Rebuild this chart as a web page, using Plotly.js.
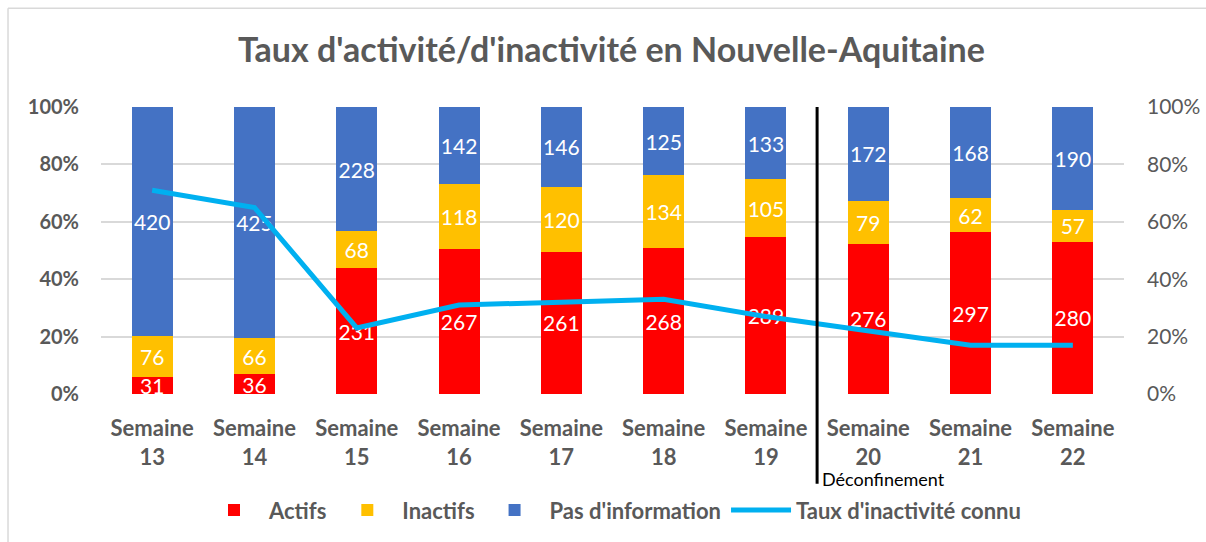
<!DOCTYPE html>
<html>
<head>
<meta charset="utf-8">
<script src="https://cdn.plot.ly/plotly-3.0.1.min.js"></script>
<style>
  html, body { margin: 0; padding: 0; background: #fff; }
  #plot { width: 1206px; height: 542px; }
</style>
</head>
<body>
<div id="plot"></div>
<script>
var semaines = ['Semaine<br>13', 'Semaine<br>14', 'Semaine<br>15', 'Semaine<br>16', 'Semaine<br>17',
                'Semaine<br>18', 'Semaine<br>19', 'Semaine<br>20', 'Semaine<br>21', 'Semaine<br>22'];
var actifs = [31, 36, 231, 267, 261, 268, 289, 276, 297, 280];
var inactifs = [76, 66, 68, 118, 120, 134, 105, 79, 62, 57];
var pasInfo = [420, 425, 228, 142, 146, 125, 133, 172, 168, 190];
var tauxInactivite = [0.71, 0.65, 0.23, 0.31, 0.32, 0.33, 0.27, 0.22, 0.17, 0.17];

var police = 'Lato, "Open Sans", sans-serif';
var gris = '#595959';

function barres(nom, valeurs, couleur) {
  return {
    x: semaines,
    y: valeurs,
    name: nom,
    type: 'bar',
    marker: {color: couleur},
    text: valeurs.map(String),
    textposition: 'inside',
    insidetextanchor: 'middle',
    textangle: 0,
    textfont: {color: '#ffffff', size: 21, family: police},
    hoverinfo: 'skip'
  };
}

var trace1 = barres('Actifs', actifs, '#FF0000');
var trace2 = barres('Inactifs', inactifs, '#FFC000');
var trace3 = barres("Pas d'information", pasInfo, '#4472C4');

var trace4 = {
  x: semaines,
  y: tauxInactivite,
  name: "Taux d'inactivité connu",
  type: 'scatter',
  mode: 'lines',
  yaxis: 'y2',
  line: {color: '#00B0F0', width: 5}
};

var data = [trace1, trace2, trace3, trace4];

var layout = {
  width: 1206,
  height: 542,
  margin: {l: 101, r: 82, t: 107, b: 147},
  paper_bgcolor: '#ffffff',
  plot_bgcolor: '#ffffff',
  barmode: 'stack',
  barnorm: 'fraction',
  bargap: 0.6,
  uniformtext: {mode: 'show', minsize: 21},
  title: {
    text: "<b>Taux d'activité/d'inactivité en Nouvelle-Aquitaine</b>",
    font: {family: police, size: 34, color: gris},
    x: 0.507, xanchor: 'center',
    y: 0.908, yanchor: 'middle'
  },
  xaxis: {
    type: 'category',
    tickfont: {family: police, size: 22, color: gris, weight: 'bold'},
    showgrid: false,
    zeroline: false,
    ticks: '',
    ticklabelstandoff: 19
  },
  yaxis: {
    range: [0, 1],
    tickvals: [0, 0.2, 0.4, 0.6, 0.8, 1],
    tickformat: '.0%',
    tickfont: {family: police, size: 20, color: gris, weight: 'bold'},
    gridcolor: '#D9D9D9',
    gridwidth: 1.5,
    zeroline: false,
    ticklabelstandoff: 21
  },
  yaxis2: {
    overlaying: 'y',
    side: 'right',
    range: [0, 1],
    tickvals: [0, 0.2, 0.4, 0.6, 0.8, 1],
    tickformat: '.0%',
    tickfont: {family: police, size: 21, color: gris},
    showgrid: false,
    zeroline: false,
    ticklabelstandoff: 22
  },
  legend: {
    orientation: 'h',
    x: 0.5, xanchor: 'center',
    y: -0.40, yanchor: 'middle',
    font: {family: police, size: 22, color: gris, weight: 'bold'},
    traceorder: 'normal',
    itemwidth: 60
  },
  shapes: [
    {type: 'line', xref: 'x', yref: 'paper', x0: 6.5, x1: 6.5, y0: 1, y1: -0.3125,
     line: {color: '#000000', width: 3}},
    {type: 'line', xref: 'paper', yref: 'paper', x0: -0.0909, x1: 1.1, y0: 1.344, y1: 1.344,
     line: {color: '#D9D9D9', width: 1.5}},
    {type: 'line', xref: 'paper', yref: 'paper', x0: -0.0909, x1: -0.0909, y0: 1.344, y1: -0.6,
     line: {color: '#D9D9D9', width: 1.5}}
  ],
  annotations: [
    {xref: 'x', yref: 'paper', x: 6.5, y: -0.295, xanchor: 'left', yanchor: 'middle',
     xshift: 3, showarrow: false, text: 'Déconfinement',
     font: {family: police, size: 18, color: '#000000'}}
  ]
};

Plotly.newPlot('plot', data, layout, {displayModeBar: false});
</script>
</body>
</html>
